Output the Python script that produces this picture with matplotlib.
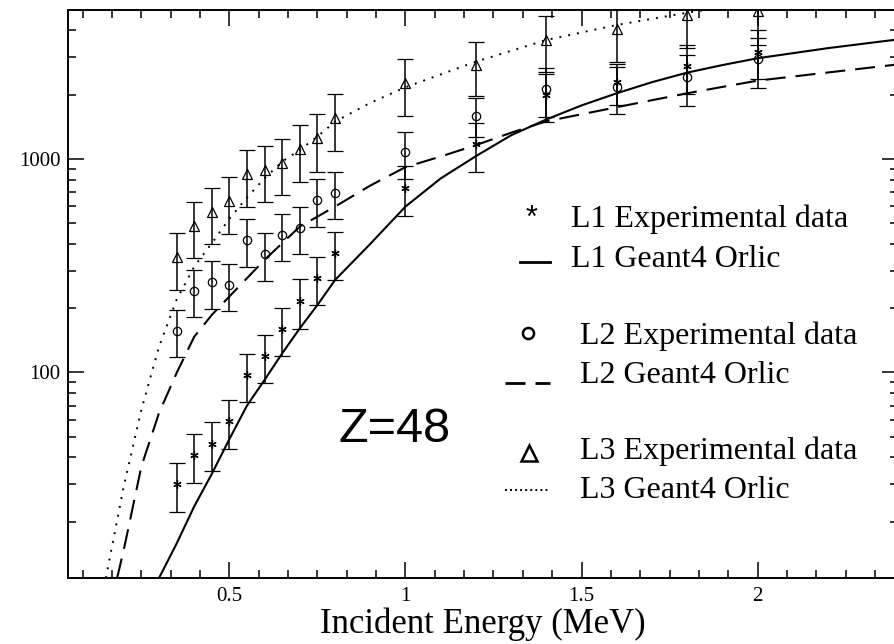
import matplotlib
matplotlib.use("Agg")
import matplotlib.pyplot as plt
from matplotlib.lines import Line2D
from matplotlib.ticker import FixedLocator, FuncFormatter, LogLocator, MultipleLocator, NullFormatter

plt.rcParams["font.family"] = "Liberation Serif"

# measured L-shell cross sections (with errors) for Z=48
energy_exp = [0.35, 0.40, 0.45, 0.50, 0.55, 0.60, 0.65, 0.70, 0.75, 0.80, 1.0, 1.2, 1.4, 1.6, 1.8, 2.0]
l1_exp = [30.0, 40.9, 46.4, 59.0, 97.5, 119.7, 160, 216.6, 278, 362, 734, 1176, 1993, 2285, 2724, 3177]
l1_err = [7.8, 10.5, 12, 15, 25, 30, 41, 56, 71, 92, 193, 303, 499, 500, 700, 820]
l2_exp = [157, 241, 265, 257, 417, 359, 441, 477, 643, 696, 1075, 1594, 2119, 2165, 2412, 2928]
l2_err = [39, 60, 66, 64, 104, 90, 110, 119, 161, 174, 268, 330, 542, 540, 650, 770]
l3_exp = [347, 486, 565, 634, 851, 888, 961, 1110, 1249, 1556, 2259, 2754, 3605, 4045, 4716, 4927]
l3_err = [103, 144, 167, 188, 255, 261, 285, 333, 382, 463, 670, 790, 1065, 1192, 1420, 1510]

# Geant4 ORLIC model curves
l1_energy = [0.30, 0.35, 0.40, 0.45, 0.50, 0.55, 0.60, 0.65, 0.70, 0.75, 0.80, 0.90, 1.00,
             1.10, 1.20, 1.30, 1.40, 1.50, 1.60, 1.70, 1.80, 1.90, 2.00, 2.20, 2.40]
l1_orlic = [10.9, 15.8, 23.6, 33.5, 48.8, 70, 92.4, 123, 161, 207, 271, 400, 598,
            810, 1030, 1290, 1530, 1780, 2029, 2287, 2535, 2750, 2960, 3301, 3629]
l2_energy = [0.181, 0.20, 0.25, 0.30, 0.35, 0.40, 0.45, 0.50, 0.60, 0.70, 0.80, 0.90, 1.00,
             1.10, 1.20, 1.30, 1.40, 1.50, 1.60, 1.70, 1.80, 1.90, 2.00, 2.20, 2.40]
l2_orlic = [10.9, 14.8, 36.3, 64.6, 99.4, 147, 186, 227, 337, 482, 598, 750, 915,
            1026, 1160, 1326, 1500, 1618, 1746, 1883, 2029, 2173, 2325, 2539, 2772]
l3_energy = [0.149, 0.20, 0.25, 0.30, 0.35, 0.40, 0.45, 0.50, 0.55, 0.60, 0.65, 0.70, 0.75,
             0.80, 0.90, 1.00, 1.10, 1.20, 1.30, 1.40, 1.50, 1.60, 1.70, 1.80, 2.00]
l3_orlic = [10.9, 29.3, 67, 132, 219, 313, 403, 525, 660, 812, 971, 1102, 1272,
            1495, 1830, 2165, 2486, 2853, 3207, 3605, 3908, 4236, 4527, 4838, 5430]

x_ticks = [0.5, 1.0, 1.5, 2.0]
x_tick_labels = ["0.5", "1", "1.5", "2"]
legend_labels = ["L1 Experimental data", "L1 Geant4 Orlic",
                 "L2 Experimental data", "L2 Geant4 Orlic",
                 "L3 Experimental data", "L3 Geant4 Orlic"]

W, H = 894, 644


def fx(px):
    return px / W


def fy(py):
    return 1 - py / H


fig = plt.figure(figsize=(W / 100, H / 100), dpi=100)
ax = fig.add_axes([fx(67.7), fy(578.3), fx(898.4 - 67.7), (578.3 - 10) / H])
ax.set_xlim(0.0407, 2.4)
ax.set_yscale("log")
ax.set_ylim(10.87, 4980)

star = (6, 2, 0)
err_kw = dict(ls="none", ecolor="black", elinewidth=1.1, capsize=5.8, capthick=1.1, color="black")
ax.errorbar(energy_exp, l1_exp, yerr=l1_err, marker=star, ms=6, mew=0.9, **err_kw)
ax.errorbar(energy_exp, l2_exp, yerr=l2_err, marker="o", ms=6, mew=0.9, mfc="none", **err_kw)
ax.errorbar(energy_exp, l3_exp, yerr=l3_err, marker="^", ms=6.5, mew=0.9, mfc="none", **err_kw)

ax.plot(l1_energy, l1_orlic, color="black", lw=1.5)
ax.plot(l2_energy, l2_orlic, color="black", lw=1.5, ls=(0, (9.6, 4.8)))
ax.plot(l3_energy, l3_orlic, color="black", lw=1.4, ls=(0, (1, 3.6)))

ax.xaxis.set_major_locator(FixedLocator(x_ticks))
ax.set_xticklabels(x_tick_labels)
ax.xaxis.set_minor_locator(MultipleLocator(0.5 / 6))
ax.yaxis.set_major_locator(LogLocator(base=10))
ax.yaxis.set_minor_locator(LogLocator(base=10, subs=range(2, 10)))
ax.yaxis.set_major_formatter(FuncFormatter(lambda v, _: f"{v:.0f}"))
ax.yaxis.set_minor_formatter(NullFormatter())
ax.tick_params(which="both", direction="in", top=True, right=True, width=1.1, labelsize=15)
ax.tick_params(which="major", length=11.5)
ax.tick_params(which="minor", length=5.8)
ax.tick_params(axis="y", pad=5)
ax.tick_params(axis="x", pad=6)
for spine in ax.spines.values():
    spine.set_linewidth(1.4)

ax.set_xlabel("Incident Energy (MeV)", fontsize=25, labelpad=1)

fig.text(fx(339), fy(442), "Z=48", family="Liberation Sans", fontsize=35,
         ha="left", va="baseline")

# hand-placed legend
txt_kw = dict(fontsize=23, ha="left", va="baseline")
fig.text(fx(531.7), fy(226.7), "*", family="Liberation Sans", fontsize=22,
         ha="center", va="baseline")
fig.text(fx(570.7), fy(226.7), legend_labels[0], **txt_kw)
fig.add_artist(Line2D([fx(520), fx(550)], [fy(261.7), fy(261.7)], color="black", lw=2))
fig.text(fx(570.7), fy(267.3), legend_labels[1], **txt_kw)
fig.add_artist(Line2D([fx(527.7)], [fy(332.7)], marker="o", ms=8, mew=1.8,
                      mfc="none", color="black"))
fig.text(fx(580), fy(344.3), legend_labels[2], **txt_kw)
fig.add_artist(Line2D([fx(505), fx(550)], [fy(382.7), fy(382.7)], color="black",
                      lw=2, ls=(0, (7.2, 3.6))))
fig.text(fx(580), fy(382.7), legend_labels[3], **txt_kw)
fig.add_artist(Line2D([fx(529)], [fy(453)], marker="^", ms=11, mew=1.8,
                      mfc="none", color="black"))
fig.text(fx(580), fy(459), legend_labels[4], **txt_kw)
fig.add_artist(Line2D([fx(505), fx(550)], [fy(490), fy(490)], color="black",
                      lw=1.4, ls=(0, (1, 1.6))))
fig.text(fx(580), fy(498.3), legend_labels[5], **txt_kw)

fig.savefig("out.png", dpi=100)
